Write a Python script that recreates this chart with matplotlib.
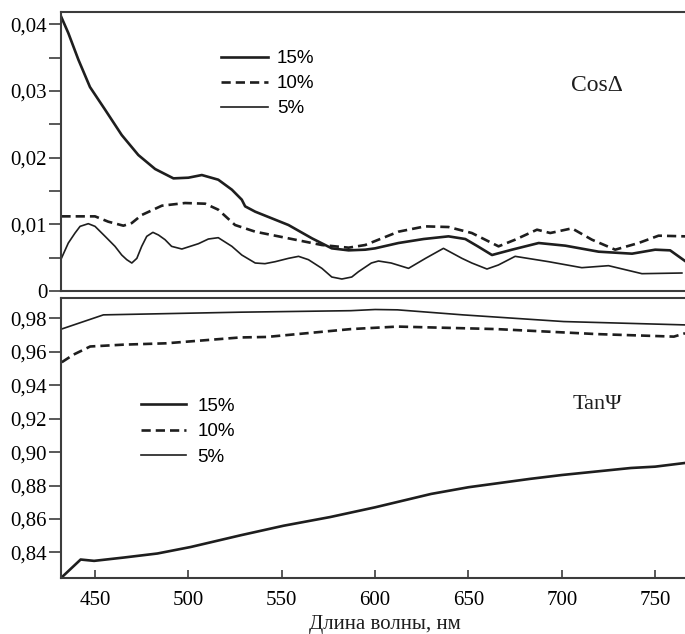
import matplotlib
matplotlib.use("Agg")
import matplotlib.pyplot as plt

plt.rcParams['font.family'] = ['Liberation Serif', 'DejaVu Serif']

# --- Cos(Delta), upper panel ---
cos_wl_15 = [431.8, 435.7, 441.1, 447.3, 455.4, 464.3, 473.2, 482.2, 492, 500, 507.2, 516,
             523.3, 528.6, 530.4, 535.8, 544.7, 553.6, 566.2, 576.8, 585.8, 594.7, 600, 612.5,
             626, 639.3, 648.3, 655, 662.6, 673.3, 687.6, 701.9, 719.7, 737.6, 750, 758, 766]
cos_15 = [0.0412, 0.0387, 0.0347, 0.0306, 0.0272, 0.0234, 0.0204, 0.0183, 0.0169, 0.0170, 0.0174, 0.0167,
          0.0152, 0.0137, 0.0127, 0.0119, 0.0109, 0.0099, 0.0079, 0.0064, 0.0061, 0.0062, 0.0064, 0.0072,
          0.0078, 0.0082, 0.0078, 0.0067, 0.0054, 0.0062, 0.0072, 0.0068, 0.0059, 0.0056, 0.0062, 0.0061, 0.0045]

cos_wl_10 = [432, 450, 457.1, 465.2, 469.7, 475, 485.8, 498.2, 509, 516, 525, 535.8, 553.6, 571.5, 585.8,
             594.7, 612.5, 626.8, 639.3, 651.8, 666.1, 675, 686.7, 693.8, 705.4, 716.1, 728.6,
             741.1, 751.8, 766]
cos_10 = [0.0112, 0.0112, 0.0104, 0.0098, 0.0102, 0.0114, 0.0128, 0.0132, 0.0131, 0.0122, 0.0099, 0.0089,
          0.0079, 0.0069, 0.0065, 0.0069, 0.0089, 0.0097, 0.0096, 0.0087, 0.0067, 0.0077, 0.0092, 0.0087,
          0.0094, 0.0077, 0.0062, 0.0072, 0.0083, 0.0082]

cos_wl_5 = [432, 435.7, 439.3, 442, 446.4, 450, 455.4, 460.7, 464.3, 467, 469.7, 472.4, 475, 477.7, 481,
            484, 487.5, 491, 496.5, 505.4, 510.7, 516, 523.3, 528.6, 535.8, 541, 546.5, 553.6, 559,
            564.3, 571.5, 576.8, 582.2, 587.5, 591.1, 598, 601.8, 608.6, 617.9, 627, 636.6, 646.5,
            651.8, 659.9, 666, 675, 692.9, 710.7, 725, 742.9, 764.3]
cos_5 = [0.0049, 0.0072, 0.0087, 0.0097, 0.0101, 0.0097, 0.0082, 0.0067, 0.0054, 0.0047, 0.0042, 0.0049,
         0.0067, 0.0082, 0.0088, 0.0084, 0.0077, 0.0067, 0.0063, 0.0071, 0.0078, 0.0080, 0.0067, 0.0054,
         0.0042, 0.0041, 0.0044, 0.0049, 0.0052, 0.0047, 0.0034, 0.0021, 0.0018, 0.0021, 0.0029, 0.0042,
         0.0045, 0.0042, 0.0034, 0.0049, 0.0064, 0.0049, 0.0042, 0.0033, 0.0039, 0.0052, 0.0044, 0.0035,
         0.0038, 0.0026, 0.0027]

# --- Tan(Psi), lower panel ---
tan_wl_15 = [432.2, 442.3, 449.5, 465.5, 483.4, 501.3, 528, 551, 576, 600, 630, 650, 683, 700, 737, 750, 766]
tan_15 = [0.8252, 0.8358, 0.8350, 0.8370, 0.8394, 0.8433, 0.8503, 0.8560, 0.8612, 0.8670, 0.8750,
          0.8790, 0.8840, 0.8863, 0.8905, 0.8913, 0.8935]

tan_wl_10 = [432.2, 438.4, 447.4, 465.2, 488, 527.7, 542, 587, 612, 665, 719, 760, 766]
tan_10 = [0.9537, 0.9582, 0.9631, 0.9642, 0.9650, 0.9685, 0.9688, 0.9735, 0.9750, 0.9735, 0.9705,
          0.9690, 0.9710]

tan_wl_5 = [432, 454.5, 527.7, 587, 600, 612, 647, 701, 766]
tan_5 = [0.9735, 0.9820, 0.9836, 0.9845, 0.9852, 0.9850, 0.9820, 0.9780, 0.9760]

labels = ['15%', '10%', '5%']
cos_yticks = [0, 0.01, 0.02, 0.03, 0.04]
cos_yticklabels = ['0', '0,01', '0,02', '0,03', '0,04']
cos_minor = [0.005, 0.015, 0.025, 0.035]
tan_yticks = [0.84, 0.86, 0.88, 0.90, 0.92, 0.94, 0.96, 0.98]
tan_yticklabels = ['0,84', '0,86', '0,88', '0,90', '0,92', '0,94', '0,96', '0,98']
xticks = [450, 500, 550, 600, 650, 700, 750]

ink = '#1e1e1e'
frame = '#3c3c3c'
styles = [dict(lw=1.9, ls='-'), dict(lw=1.9, ls=(0, (3.5, 1.9))), dict(lw=1.2, ls='-')]

fig = plt.figure(figsize=(6.85, 6.34), dpi=100)
ax1 = fig.add_axes([0.0891, 0.541, 0.911, 0.4405])
ax2 = fig.add_axes([0.0891, 0.0879, 0.911, 0.4416])

for ax in (ax1, ax2):
    ax.set_xlim(431.8, 766)
    ax.spines['right'].set_visible(False)
    for s in ('left', 'top', 'bottom'):
        ax.spines[s].set_color(frame)
        ax.spines[s].set_linewidth(1.5)
    ax.tick_params(axis='y', which='both', direction='out', length=9, width=1.2,
                   color=frame, labelsize=15, pad=1)

# upper
for wl, vals, lab, st in zip([cos_wl_15, cos_wl_10, cos_wl_5], [cos_15, cos_10, cos_5], labels, styles):
    ax1.plot(wl, vals, color=ink, label=lab, solid_joinstyle='round', **st)
ax1.set_ylim(0, 0.0419)
ax1.set_yticks(cos_yticks)
ax1.set_yticklabels(cos_yticklabels)
ax1.set_yticks(cos_minor, minor=True)
ax1.tick_params(axis='x', which='both', bottom=False, labelbottom=False)
ax1.text(0.859, 0.735, 'Cos\u0394', transform=ax1.transAxes, fontsize=17,
         ha='center', va='center', color=ink)
ax1.legend(loc='upper left', bbox_to_anchor=(0.256, 0.862), frameon=False,
           borderaxespad=0, borderpad=0, handlelength=2.5, handletextpad=0.5,
           labelspacing=0.42, prop={'family': 'Liberation Sans', 'size': 13.5})

# lower
for wl, vals, lab, st in zip([tan_wl_15, tan_wl_10, tan_wl_5], [tan_15, tan_10, tan_5], labels, styles):
    ax2.plot(wl, vals, color=ink, label=lab, solid_joinstyle='round', **st)
ax2.set_ylim(0.8246, 0.9919)
ax2.set_yticks(tan_yticks)
ax2.set_yticklabels(tan_yticklabels)
ax2.set_xticks(xticks)
ax2.set_xticklabels([str(v) for v in xticks])
ax2.tick_params(axis='x', direction='in', length=6, width=1.2, color=frame,
                labelsize=15, pad=9)
ax2.set_xlabel('Длина волны, нм', fontsize=15, color=ink)
ax2.xaxis.set_label_coords(0.519, -0.13)
ax2.text(0.859, 0.622, 'Tan\u03a8', transform=ax2.transAxes, fontsize=16,
         ha='center', va='center', color=ink)
ax2.legend(loc='upper left', bbox_to_anchor=(0.128, 0.645), frameon=False,
           borderaxespad=0, borderpad=0, handlelength=2.4, handletextpad=0.6,
           labelspacing=0.45, prop={'family': 'Liberation Sans', 'size': 13.5})

fig.savefig('out.png', dpi=100)
